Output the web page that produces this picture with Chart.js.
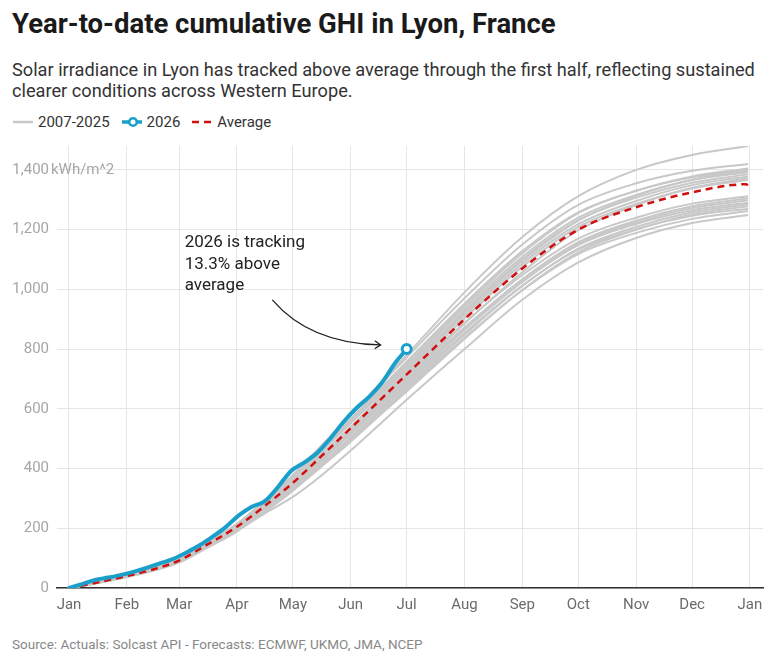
<!DOCTYPE html>
<html><head><meta charset="utf-8">
<script src="https://cdn.jsdelivr.net/npm/chart.js@4.4.1/dist/chart.umd.min.js"></script>
<style>
html,body{margin:0;padding:0;background:#fff;}
body{width:775px;height:667px;position:relative;overflow:hidden;font-family:Roboto,"Noto Sans",sans-serif;}
#title{position:absolute;left:12px;top:8px;font-weight:700;font-size:27.5px;line-height:32px;color:#1a1a1a;white-space:nowrap;}
#sub{position:absolute;left:12px;top:59px;font-size:18.2px;line-height:21px;color:#333;white-space:nowrap;}
#legend{position:absolute;left:13px;top:113px;height:18px;display:flex;align-items:center;font-size:15px;color:#333;white-space:nowrap;}
#legend .it{display:flex;align-items:center;}
#legend svg{margin-right:5px;}
#wrap{position:absolute;left:0;top:105px;width:775px;height:520px;}
#source{position:absolute;left:12px;top:636px;font-size:13.5px;color:#888;white-space:nowrap;}
</style>
</head><body>
<div id="title">Year-to-date cumulative GHI in Lyon, France</div>
<div id="sub">Solar irradiance in Lyon has tracked above average through the first half, reflecting sustained<br>clearer conditions across Western Europe.</div>
<div id="legend">
  <div class="it" style="margin-right:12px"><svg width="20" height="12"><line x1="0" y1="6" x2="20" y2="6" stroke="#c8c8c8" stroke-width="2.5"/></svg><span>2007-2025</span></div>
  <div class="it" style="margin-right:12px"><svg width="20" height="12"><line x1="0" y1="6" x2="20" y2="6" stroke="#1a9fcb" stroke-width="3.5"/><circle cx="11" cy="6" r="3.8" fill="#fff" stroke="#1a9fcb" stroke-width="2.6"/></svg><span>2026</span></div>
  <div class="it"><svg width="20" height="12"><line x1="0" y1="6" x2="20" y2="6" stroke="#d10f0f" stroke-width="2.5" stroke-dasharray="7,5"/></svg><span>Average</span></div>
</div>
<div id="wrap"><canvas id="c"></canvas></div>
<div id="source">Source: Actuals: Solcast API - Forecasts: ECMWF, UKMO, JMA, NCEP</div>
<script>
// ---- axis ticks ----
const monthDays = [0, 31, 59, 90, 120, 151, 181, 212, 243, 273, 304, 334, 365];
const monthLabels = ['Jan','Feb','Mar','Apr','May','Jun','Jul','Aug','Sep','Oct','Nov','Dec','Jan'];
const yTicks = [0, 200, 400, 600, 800, 1000, 1200, 1400];

// ---- historical years (cumulative kWh/m^2 at sample days) ----
const sampleDays = [0, 15, 31, 45, 59, 74, 90, 105, 120, 135, 151, 166, 181, 212, 243, 273, 304, 334, 364];
const years = ['2007','2008','2009','2010','2011','2012','2013','2014','2015','2016','2017','2018','2019','2020','2021','2022','2023','2024','2025'];
const y2007 = [0,18,39,60,89,139,199,264,334,422,514,600,686,864,1025,1148,1219,1265,1290];
const y2008 = [0,18,41,63,91,140,196,258,330,405,497,580,665,838,997,1118,1189,1236,1262];
const y2009 = [0,18,40,61,90,142,203,277,355,445,538,628,715,902,1076,1209,1286,1338,1366];
const y2010 = [0,17,38,59,87,137,192,250,305,375,460,545,630,800,965,1090,1172,1222,1249];
const y2011 = [0,19,42,65,96,151,214,288,368,458,552,640,730,920,1095,1230,1313,1367,1398];
const y2012 = [0,17,38,60,89,141,198,268,345,433,528,618,708,888,1048,1170,1240,1287,1312];
const y2013 = [0,17,37,58,85,134,189,255,326,411,505,592,680,854,1013,1133,1201,1246,1270];
const y2014 = [0,18,40,62,91,143,202,268,342,428,519,607,694,872,1034,1158,1230,1278,1305];
const y2015 = [0,18,40,63,93,147,208,283,364,456,556,650,744,935,1109,1240,1316,1366,1392];
const y2016 = [0,17,39,60,89,140,196,260,332,414,503,588,672,848,1011,1136,1209,1258,1285];
const y2017 = [0,18,41,63,94,149,211,287,369,462,561,656,751,944,1121,1255,1330,1378,1405];
const y2018 = [0,18,40,61,91,143,202,270,345,430,523,612,700,885,1057,1198,1282,1340,1372];
const y2019 = [0,19,42,65,96,152,215,294,378,473,577,675,772,970,1150,1283,1355,1397,1420];
const y2020 = [0,18,40,62,93,147,210,285,364,454,552,644,736,926,1101,1232,1307,1357,1385];
const y2021 = [0,18,39,61,90,141,198,260,327,405,490,575,658,834,998,1124,1200,1251,1278];
const y2022 = [0,19,41,64,95,150,213,292,378,475,580,680,780,990,1175,1312,1400,1450,1480];
const y2023 = [0,18,39,61,90,142,201,274,354,443,539,631,722,912,1086,1218,1296,1349,1378];
const y2024 = [0,17,38,60,88,139,197,264,339,425,518,606,694,871,1032,1153,1224,1272,1298];
const y2025 = [0,19,41,64,95,150,213,290,372,465,566,662,758,952,1128,1258,1330,1375,1400];
const historical = [y2007,y2008,y2009,y2010,y2011,y2012,y2013,y2014,y2015,y2016,y2017,y2018,y2019,y2020,y2021,y2022,y2023,y2024,y2025];

// ---- average ----
const avgDays = [0, 15, 31, 45, 59, 74, 90, 105, 120, 135, 151, 166, 181, 212, 243, 273, 304, 334, 363, 365];
const avgValues = [0,18,40,62,92,145,205,275,352,440,535,625,715,900,1070,1200,1275,1325,1352,1335];

// ---- 2026 year to date ----
const days2026 = [0,7,14,21,28,35,42,49,56,63,70,77,84,91,98,105,112,119,126,133,140,147,154,161,168,175,181];
const values2026 = [0,13,27,35,44,55,68,83,98,119,143,172,204,243,272,291,338,392,420,452,500,555,602,641,690,755,800];

// ---- annotation (data coordinates) ----
const noteLines = ['2026 is tracking', '13.3% above', 'average'];
const notePos = [62, 1155];
const arrowFrom = [109, 965], arrowCtrl = [129, 819], arrowTo = [167, 814];

const GRAY = '#c8c8c8', BLUE = '#1a9fcb', RED = '#d10f0f';
const toXY = (xs, ys) => xs.map((x, i) => ({x, y: ys[i]}));

const datasets = historical.map((arr, i) => ({
  label: years[i], data: toXY(sampleDays, arr), borderColor: GRAY, borderWidth: 2,
  pointRadius: 0, cubicInterpolationMode: 'monotone', order: 3
}));
datasets.push({
  label: 'Average', data: toXY(avgDays, avgValues), borderColor: RED, borderWidth: 2.5,
  borderDash: [7, 5], pointRadius: 0, cubicInterpolationMode: 'monotone', order: 2
});
datasets.push({
  label: '2026', data: toXY(days2026, values2026), borderColor: BLUE, borderWidth: 4,
  borderJoinStyle: 'round', borderCapStyle: 'round',
  pointRadius: days2026.map((d, i) => i === days2026.length - 1 ? 4.5 : 0),
  pointBackgroundColor: '#fff', pointBorderColor: BLUE, pointBorderWidth: 3,
  cubicInterpolationMode: 'monotone', order: 1
});

const extras = {
  id: 'extras',
  afterDatasetsDraw(chart) {
    const {ctx, scales: {x, y}, chartArea} = chart;
    ctx.save();
    // unit label next to top tick
    ctx.font = '15px Roboto';
    ctx.fillStyle = '#a6a6a6';
    ctx.textAlign = 'left';
    ctx.textBaseline = 'middle';
    ctx.fillText('kWh/m^2', chartArea.left - 6, y.getPixelForValue(yTicks[yTicks.length - 1]));
    // annotation text
    ctx.font = '17px Roboto';
    ctx.fillStyle = '#222';
    const tx = x.getPixelForValue(notePos[0]), ty = y.getPixelForValue(notePos[1]);
    noteLines.forEach((t, i) => ctx.fillText(t, tx, ty + i * 21.5));
    // arrow
    const p0 = [x.getPixelForValue(arrowFrom[0]), y.getPixelForValue(arrowFrom[1])];
    const pc = [x.getPixelForValue(arrowCtrl[0]), y.getPixelForValue(arrowCtrl[1])];
    const p1 = [x.getPixelForValue(arrowTo[0]), y.getPixelForValue(arrowTo[1])];
    ctx.strokeStyle = '#222';
    ctx.lineWidth = 1.3;
    ctx.beginPath();
    ctx.moveTo(p0[0], p0[1]);
    ctx.quadraticCurveTo(pc[0], pc[1], p1[0], p1[1]);
    ctx.stroke();
    const ang = Math.atan2(p1[1] - pc[1], p1[0] - pc[0]);
    const L = 7;
    ctx.beginPath();
    ctx.moveTo(p1[0] - L * Math.cos(ang - 0.6), p1[1] - L * Math.sin(ang - 0.6));
    ctx.lineTo(p1[0], p1[1]);
    ctx.lineTo(p1[0] - L * Math.cos(ang + 0.6), p1[1] - L * Math.sin(ang + 0.6));
    ctx.stroke();
    ctx.restore();
  }
};

new Chart(document.getElementById('c'), {
  type: 'line',
  data: { datasets },
  options: {
    responsive: true, maintainAspectRatio: false, animation: false,
    layout: { padding: { top: 41, right: 12, left: 0, bottom: 0 } },
    plugins: { legend: { display: false }, tooltip: { enabled: false } },
    elements: { line: { tension: 0 } },
    scales: {
      x: {
        type: 'linear', min: -6.43, max: 372,
        afterBuildTicks: s => { s.ticks = monthDays.map(v => ({value: v})); },
        afterFit: s => { s.height = 37; },
        ticks: {
          callback: (v, i) => monthLabels[i], autoSkip: false, maxRotation: 0,
          font: { family: 'Roboto', size: 15 }, color: '#6b6b6b', padding: 8
        },
        grid: { color: '#e6e6e6', lineWidth: 1, drawTicks: false },
        border: { display: true, color: '#333', width: 1.5 }
      },
      y: {
        type: 'linear', min: 0, max: 1480,
        afterBuildTicks: s => { s.ticks = yTicks.map(v => ({value: v})); },
        afterFit: s => { s.width = 57; },
        ticks: {
          callback: v => v.toLocaleString('en-US'),
          font: { family: 'Roboto', size: 15 }, color: '#a6a6a6', padding: 8
        },
        grid: { color: '#e6e6e6', lineWidth: 1, drawTicks: false },
        border: { display: false }
      }
    }
  },
  plugins: [extras]
});
</script>
</body></html>
